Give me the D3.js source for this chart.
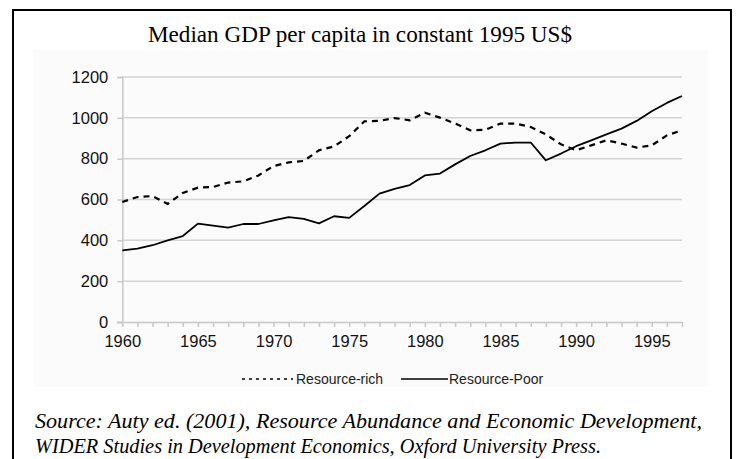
<!DOCTYPE html>
<html><head><meta charset="utf-8">
<script src="https://cdn.jsdelivr.net/npm/d3@7"></script>
<style>body{margin:0;background:#fff;}svg{display:block;}</style>
</head><body>
<svg id="chart" width="737" height="459"></svg>
<script>
const years = d3.range(1960, 1998);
const resourceRich = [588,612,617,578,632,658,661,683,689,718,764,782,789,841,860,910,983,985,999,988,1025,1001,972,939,942,972,972,955,919,870,841,865,890,874,854,865,914,939];
const resourcePoor = [351,359,376,400,421,482,472,462,480,480,498,514,505,483,518,510,568,629,652,671,718,727,772,813,841,874,879,879,792,825,861,890,919,947,985,1032,1073,1107];
const yTicks = [0,200,400,600,800,1000,1200];
const xTickLabels = [1960,1965,1970,1975,1980,1985,1990,1995];
const title = "Median GDP per capita in constant 1995 US$";
const seriesNames = ["Resource-rich","Resource-Poor"];
const sourceLines = ["Source: Auty ed. (2001), Resource Abundance and Economic Development,",
                     "WIDER Studies in Development Economics, Oxford University Press."];

const svg = d3.select("#chart");
// outer frame
svg.append("rect").attr("x",13).attr("y",10).attr("width",718).attr("height",460)
  .attr("fill","#fff").attr("stroke","#000").attr("stroke-width",2);
// faint chart area
svg.append("rect").attr("x",33).attr("y",50).attr("width",675).attr("height",337).attr("fill","#fbfbfb");

svg.append("text").attr("x",148).attr("y",42)
  .attr("font-family","Liberation Serif, Times New Roman, serif").attr("font-size",24)
  .attr("textLength",424).attr("lengthAdjust","spacingAndGlyphs")
  .attr("fill","#000").text(title);

const x = d3.scaleLinear().domain([1960,1997]).range([122.3,682]);
const y = d3.scaleLinear().domain([0,1200]).range([322,77]);

// gridlines
svg.append("g").selectAll("line").data(yTicks.filter(d=>d>0)).join("line")
  .attr("x1",122).attr("x2",682).attr("y1",d=>y(d)).attr("y2",d=>y(d))
  .attr("stroke","#d4d4d4").attr("stroke-width",1.5);

// y axis
const yAxis = svg.append("g").attr("transform","translate(122.3,0)")
  .call(d3.axisLeft(y).tickValues(yTicks).tickSize(5).tickPadding(9).tickFormat(d3.format("d")));
yAxis.select(".domain").attr("stroke","#c8c8c8").attr("stroke-width",1.5);
yAxis.selectAll(".tick line").attr("stroke","#c8c8c8").attr("stroke-width",1.5);
yAxis.selectAll("text").attr("font-family","Liberation Sans, Arial, sans-serif").attr("font-size",16.5).attr("fill","#111");

// x axis
const xAxis = svg.append("g").attr("transform","translate(0,322)")
  .call(d3.axisBottom(x).tickValues(years).tickSize(5).tickPadding(8)
    .tickFormat(d=>xTickLabels.includes(d)?d:""));
xAxis.select(".domain").attr("d","M117,0.5H682.5").attr("stroke","#c8c8c8").attr("stroke-width",1.5);
xAxis.selectAll(".tick line").attr("stroke","#c8c8c8").attr("stroke-width",1.5);
xAxis.selectAll("text").attr("font-family","Liberation Sans, Arial, sans-serif").attr("font-size",16.5).attr("fill","#111");

const line = d3.line().x((d,i)=>x(years[i])).y(d=>y(d));
svg.append("path").datum(resourcePoor).attr("d",line).attr("fill","none")
  .attr("stroke","#000").attr("stroke-width",1.8).attr("stroke-linejoin","round");
svg.append("path").datum(resourceRich).attr("d",line).attr("fill","none")
  .attr("stroke","#000").attr("stroke-width",2.2).attr("stroke-dasharray","6,5");

// legend
const lg = svg.append("g").attr("font-family","Liberation Sans, Arial, sans-serif").attr("font-size",14).attr("fill","#222");
lg.append("line").attr("x1",242).attr("x2",293).attr("y1",379).attr("y2",379)
  .attr("stroke","#000").attr("stroke-width",1.6).attr("stroke-dasharray","3,4");
lg.append("text").attr("x",296).attr("y",384).text(seriesNames[0]);
lg.append("line").attr("x1",401).attr("x2",448).attr("y1",379).attr("y2",379)
  .attr("stroke","#000").attr("stroke-width",1.6);
lg.append("text").attr("x",449).attr("y",384).text(seriesNames[1]);

// source
const srcLen = [667, 566];
svg.append("g").selectAll("text").data(sourceLines).join("text")
  .attr("x",35).attr("y",(d,i)=>428+i*25)
  .attr("textLength",(d,i)=>srcLen[i]).attr("lengthAdjust","spacingAndGlyphs")
  .attr("font-family","Liberation Serif, Times New Roman, serif").attr("font-style","italic")
  .attr("font-size",20).attr("fill","#000").text(d=>d);
</script>
</body></html>
